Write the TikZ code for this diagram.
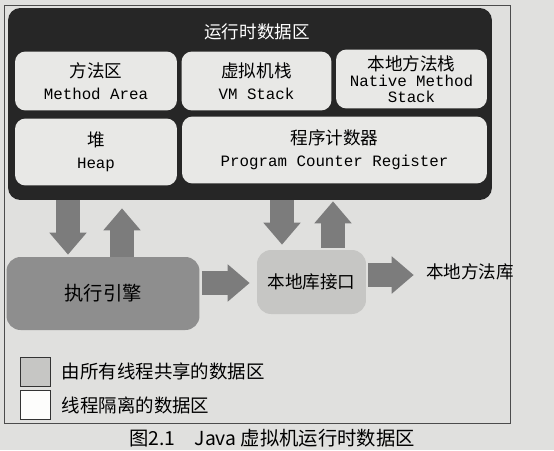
\documentclass[tikz,border=0pt]{standalone}
\usepackage{fontspec}
\setmainfont{Noto Sans CJK SC}
\setmonofont{Liberation Mono}
\usetikzlibrary{arrows.meta}
\definecolor{paper}{HTML}{E0E0DE}
\definecolor{darkarea}{HTML}{262626}
\definecolor{lightarea}{HTML}{E8E8E6}
\definecolor{enginegray}{HTML}{8E8E8E}
\definecolor{nifgray}{HTML}{C6C6C4}
\definecolor{arrowgray}{HTML}{7C7C7C}
\begin{document}
\begin{tikzpicture}[x=0.02cm, y=-0.02cm,
    every node/.style={inner sep=0pt}, align=center]
		\tikzset{%
  % Specifications for style of nodes:
            runtime/.style = {rectangle, fill=darkarea, rounded corners=7pt,
                           minimum width=9.68cm, minimum height=3.84cm},
            area/.style = {rectangle, fill=lightarea, rounded corners=6pt,
                           minimum height=1.18cm, font=\fontsize{10}{12.5}\selectfont},
            engine/.style = {rectangle, fill=enginegray, rounded corners=8pt,
                           minimum width=3.86cm, minimum height=1.46cm, font=\fontsize{11}{13}\selectfont},
            nif/.style = {rectangle, fill=nifgray, rounded corners=8pt,
                           minimum width=2.18cm, minimum height=1.28cm, font=\fontsize{10}{12}\selectfont},
            legend/.style = {rectangle, draw=black!80, line width=0.5pt,
                           minimum width=0.6cm, minimum height=0.58cm},
            blockarrow/.style = {line width=0.48cm, draw=arrowgray,
                           -{Triangle[width=0.72cm,length=0.44cm]}},
}
  \fill[paper] (0,0) rectangle (554,450);
  \useasboundingbox (0,0) rectangle (554,450);
  % outer frame of the figure
  \draw[black!70, line width=0.5pt] (4,5) rectangle (510,423);

  % run-time data areas
  \node (rt) [runtime] at (250,104) {};
  \node (title) [text=white, font=\fontsize{10}{12}\selectfont] at (257,32) {运行时数据区};

  \node (ma) [area, minimum width=3.24cm] at (96,81) {方法区\\\texttt{\small Method Area}};
  \node (vms) [area, minimum width=3.0cm] at (256.5,81) {虚拟机栈\\\texttt{\small VM Stack}};
  \node (nms) [area, minimum width=3.02cm, font=\fontsize{10}{9}\selectfont] at (411.5,79) {本地方法栈\\\texttt{\small Native Method}\\\texttt{\small Stack}};
  \node (heap) [area, minimum width=3.24cm, minimum height=1.34cm] at (96,152) {堆\\\texttt{\small Heap}};
  \node (pcr) [area, minimum width=6.1cm, minimum height=1.34cm] at (334.5,150) {程序计数器\\\texttt{\small Program Counter Register}};

  % execution engine and native interface
  \node (engine) [engine] at (103,293.5) {执行引擎};
  \node (nif) [nif] at (311.5,282) {本地库接口};
  \node (nlib) [font=\fontsize{10}{12}\selectfont] at (470,272) {本地方法库};

  % block arrows between the parts
  \coordinate (x1) at (68,0);
  \coordinate (x2) at (122,0);
  \coordinate (x3) at (282,0);
  \coordinate (x4) at (333,0);
  \coordinate (y1) at (0,283);
  \coordinate (y2) at (0,275);
  \draw[blockarrow, shorten >=0.04cm] (rt.south -| x1) -- (engine.north -| x1);
  \draw[blockarrow, shorten >=0.16cm] (engine.north -| x2) -- (rt.south -| x2);
  \draw[blockarrow, shorten >=0.1cm] (rt.south -| x3) -- (nif.north -| x3);
  \draw[blockarrow, shorten >=0.02cm, shorten <=0.04cm] (nif.north -| x4) -- (rt.south -| x4);
  \draw[blockarrow, shorten <=0.04cm, shorten >=0.14cm] (engine.east |- y1) -- (nif.west |- y1);
  \draw[blockarrow, shorten <=0.04cm, shorten >=0.24cm] (nif.east |- y2) -- (nlib.west |- y2);

  % legend
  \node (shared) [legend, fill=nifgray] at (35,371.5) {};
  \node (private) [legend, fill=white!92!paper] at (35,405) {};
  \node (sharedtext) [anchor=west, font=\fontsize{10.5}{12}\selectfont] at ([xshift=0.22cm]shared.east) {由所有线程共享的数据区};
  \node (privatetext) [anchor=west, font=\fontsize{10.5}{12}\selectfont] at ([xshift=0.22cm]private.east) {线程隔离的数据区};

  % caption
  \node (caption) [font=\fontsize{11}{13}\selectfont] at (272,438) {图2.1\quad Java 虚拟机运行时数据区};
\end{tikzpicture}
\end{document}
